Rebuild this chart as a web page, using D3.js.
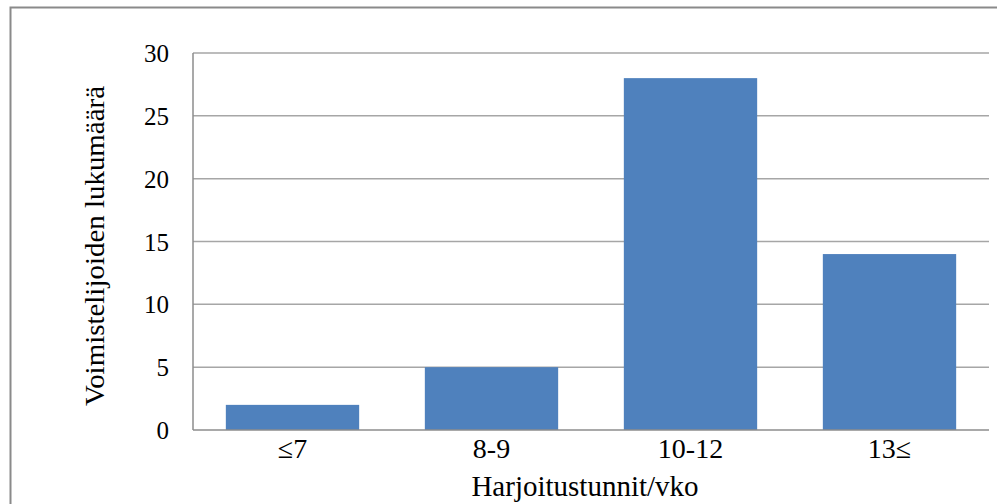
<!DOCTYPE html>
<html>
<head>
<meta charset="utf-8">
<script src="https://cdn.jsdelivr.net/npm/d3@7"></script>
<style>
  html, body { margin: 0; padding: 0; background: #fff; }
  svg { display: block; }
  svg text { font-family: "Liberation Serif", "Times New Roman", serif; fill: #000; }
</style>
</head>
<body>
<svg id="chart" width="997" height="504"></svg>
<script>
// Training hours per week vs. number of gymnasts
const categories = ["\u22647", "8-9", "10-12", "13\u2264"];
const counts = [2, 5, 28, 14];
const yTicks = [0, 5, 10, 15, 20, 25, 30];
const xTitle = "Harjoitustunnit/vko";
const yTitle = "Voimistelijoiden lukumäärä";

const serif = '"Liberation Serif", "Times New Roman", serif';
const svg = d3.select("#chart");
const plot = { left: 193, right: 989, top: 53, bottom: 430 };

// Outer chart frame (runs past the right and bottom edges)
svg.append("rect")
  .attr("x", 10.5).attr("y", 7.5)
  .attr("width", 1000).attr("height", 520)
  .attr("fill", "#fff")
  .attr("stroke", "#8a8a8a")
  .attr("stroke-width", 2);

const x = d3.scaleBand()
  .domain(categories)
  .range([plot.left, plot.right])
  .paddingInner(0.33)
  .paddingOuter(0.165);

const y = d3.scaleLinear()
  .domain([0, 30])
  .range([plot.bottom, plot.top]);

// Horizontal gridlines
svg.append("g")
  .selectAll("line")
  .data(yTicks.filter(d => d > 0))
  .join("line")
  .attr("x1", plot.left).attr("x2", plot.right)
  .attr("y1", d => y(d)).attr("y2", d => y(d))
  .attr("stroke", "#a6a6a6")
  .attr("stroke-width", 1.5);

// Bars
svg.append("g")
  .selectAll("rect")
  .data(categories.map((c, i) => ({ c, v: counts[i] })))
  .join("rect")
  .attr("x", d => x(d.c))
  .attr("y", d => y(d.v))
  .attr("width", x.bandwidth())
  .attr("height", d => y(0) - y(d.v))
  .attr("fill", "#4f81bd");

// Axis lines
svg.append("line")
  .attr("x1", plot.left).attr("x2", plot.left)
  .attr("y1", plot.top).attr("y2", plot.bottom)
  .attr("stroke", "#8c8c8c").attr("stroke-width", 1.5);
svg.append("line")
  .attr("x1", plot.left).attr("x2", plot.right)
  .attr("y1", plot.bottom).attr("y2", plot.bottom)
  .attr("stroke", "#8c8c8c").attr("stroke-width", 1.5);

// Y tick labels
const yAxis = d3.axisLeft(y).tickValues(yTicks).tickSize(0).tickPadding(24);
const gy = svg.append("g")
  .attr("transform", `translate(${plot.left},0)`)
  .call(yAxis)
  .attr("font-family", null);
gy.select(".domain").remove();
gy.selectAll("text")
  .style("font-family", serif)
  .attr("font-size", 25)
  .attr("fill", "#000")
  .attr("dy", "0.34em");

// X tick labels
const xAxis = d3.axisBottom(x).tickSize(0).tickPadding(8);
const gx = svg.append("g")
  .attr("transform", `translate(0,${plot.bottom})`)
  .call(xAxis)
  .attr("font-family", null);
gx.select(".domain").remove();
gx.selectAll("text")
  .style("font-family", serif)
  .attr("font-size", 28)
  .attr("fill", "#000")
  .attr("dy", "0.71em");

// Axis titles
svg.append("text")
  .attr("x", 585).attr("y", 496)
  .attr("text-anchor", "middle")
  .style("font-family", serif)
  .attr("font-size", 29)
  .text(xTitle);

svg.append("text")
  .attr("transform", "translate(104,246) rotate(-90)")
  .attr("text-anchor", "middle")
  .style("font-family", serif)
  .attr("font-size", 28)
  .attr("textLength", 320)
  .attr("lengthAdjust", "spacingAndGlyphs")
  .text(yTitle);
</script>
</body>
</html>
